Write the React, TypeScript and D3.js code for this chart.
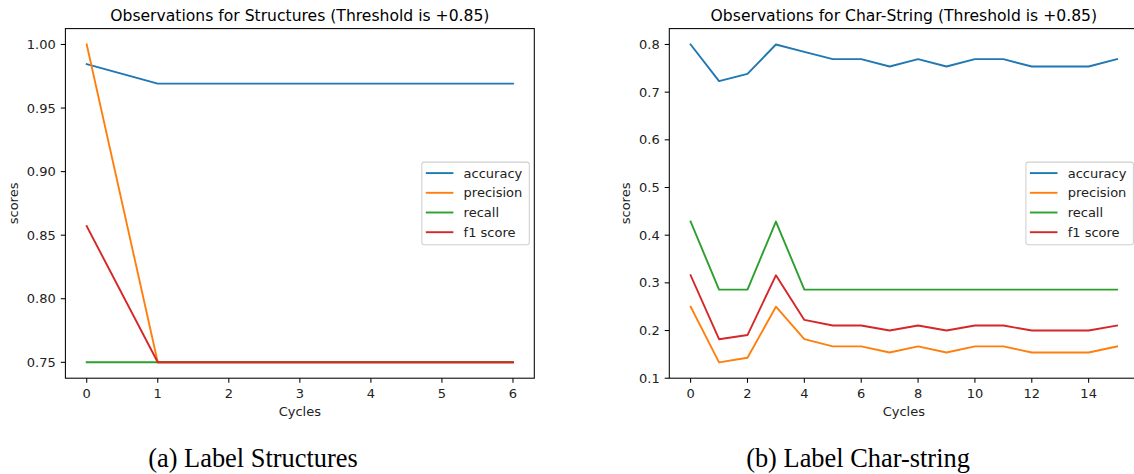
import React from 'react';
import * as d3 from 'd3';

// Label Structures (7 cycles)
const structCycles = [0, 1, 2, 3, 4, 5, 6];
const structAccuracy = [0.9846, 0.9692, 0.9692, 0.9692, 0.9692, 0.9692, 0.9692];
const structPrecision = [1.0, 0.75, 0.75, 0.75, 0.75, 0.75, 0.75];
const structRecall = [0.75, 0.75, 0.75, 0.75, 0.75, 0.75, 0.75];
const structF1 = [0.8571, 0.75, 0.75, 0.75, 0.75, 0.75, 0.75];
const structYTicks = [0.75, 0.8, 0.85, 0.9, 0.95, 1.0];
const structXTicks = [0, 1, 2, 3, 4, 5, 6];

// Label Char-string (16 cycles)
const charCycles = [0, 1, 2, 3, 4, 5, 6, 7, 8, 9, 10, 11, 12, 13, 14, 15];
const charAccuracy = [0.8, 0.7231, 0.7385, 0.8, 0.7846, 0.7692, 0.7692, 0.7538, 0.7692, 0.7538, 0.7692, 0.7692, 0.7538, 0.7538, 0.7538, 0.7692];
const charPrecision = [0.25, 0.1333, 0.1429, 0.25, 0.1818, 0.1667, 0.1667, 0.1538, 0.1667, 0.1538, 0.1667, 0.1667, 0.1538, 0.1538, 0.1538, 0.1667];
const charRecall = [0.4286, 0.2857, 0.2857, 0.4286, 0.2857, 0.2857, 0.2857, 0.2857, 0.2857, 0.2857, 0.2857, 0.2857, 0.2857, 0.2857, 0.2857, 0.2857];
const charF1 = [0.3158, 0.1818, 0.1905, 0.3158, 0.2222, 0.2105, 0.2105, 0.2, 0.2105, 0.2, 0.2105, 0.2105, 0.2, 0.2, 0.2, 0.2105];
const charYTicks = [0.1, 0.2, 0.3, 0.4, 0.5, 0.6, 0.7, 0.8];
const charXTicks = [0, 2, 4, 6, 8, 10, 12, 14];

const seriesNames = ['accuracy', 'precision', 'recall', 'f1 score'];
const colors = ['#1f77b4', '#ff7f0e', '#2ca02c', '#d62728'];

const FONT = 'DejaVu Sans, sans-serif';

type PanelProps = {
  title: string;
  caption: string;
  captionX: number;
  cycles: number[];
  series: number[][];
  xDomain: [number, number];
  xRange: [number, number];
  yDomain: [number, number];
  xTicks: number[];
  yTicks: number[];
  yFormat: string;
  yLabelX: number;
};

const Panel = (p: PanelProps) => {
  const top = 28.6;
  const bottom = 378.2;
  const x = d3.scaleLinear().domain(p.xDomain).range(p.xRange);
  const y = d3.scaleLinear().domain(p.yDomain).range([bottom, top]);
  const fmt = d3.format(p.yFormat);
  const [left, right] = p.xRange;
  const cx = (left + right) / 2;

  const line = d3.line<number>()
    .x((_, i) => x(p.cycles[i]))
    .y(d => y(d));

  // legend, "center right"
  const legW = 107.5;
  const legH = 82.6;
  const legRight = right - 5;
  const legLeft = legRight - legW;
  const legTop = (top + bottom) / 2 - legH / 2;

  return (
    <g>
      <text x={cx} y={21} textAnchor="middle" fontSize={15.6} fontFamily={FONT} fill="#000">
        {p.title}
      </text>

      {p.series.map((s, i) => (
        <path key={i} d={line(s) || ''} fill="none" stroke={colors[i]} strokeWidth={1.9}
          strokeLinejoin="round" strokeLinecap="square" />
      ))}

      {/* spines */}
      <rect x={left} y={top} width={right - left} height={bottom - top}
        fill="none" stroke="#000" strokeWidth={1.05} />

      {p.yTicks.map(t => (
        <g key={t}>
          <line x1={left - 4.6} x2={left} y1={y(t)} y2={y(t)} stroke="#000" strokeWidth={1.05} />
          <text x={left - 9.6} y={y(t) + 4.6} textAnchor="end" fontSize={13} fontFamily={FONT} fill="#222">
            {fmt(t)}
          </text>
        </g>
      ))}
      {p.xTicks.map(t => (
        <g key={t}>
          <line x1={x(t)} x2={x(t)} y1={bottom} y2={bottom + 4.6} stroke="#000" strokeWidth={1.05} />
          <text x={x(t)} y={397.8} textAnchor="middle" fontSize={13} fontFamily={FONT} fill="#222">
            {t}
          </text>
        </g>
      ))}

      <text x={cx} y={415.8} textAnchor="middle" fontSize={13} fontFamily={FONT} fill="#222">Cycles</text>
      <text transform={`translate(${p.yLabelX},${(top + bottom) / 2}) rotate(-90)`} textAnchor="middle"
        fontSize={13} fontFamily={FONT} fill="#222">scores</text>

      <rect x={legLeft} y={legTop} width={legW} height={legH} rx={2.5}
        fill="#fff" fillOpacity={0.8} stroke="#d0d0d0" strokeWidth={1.05} />
      {seriesNames.map((name, i) => {
        const ry = legTop + 11 + i * 19.7;
        return (
          <g key={name}>
            <line x1={legLeft + 4} x2={legLeft + 31.6} y1={ry} y2={ry} stroke={colors[i]} strokeWidth={1.9} />
            <text x={legLeft + 41.8} y={ry + 4.6} fontSize={13} fontFamily={FONT} fill="#222">{name}</text>
          </g>
        );
      })}

      <text x={p.captionX} y={467} textAnchor="middle" fontSize={26.4}
        fontFamily="Liberation Serif, Times New Roman, serif" fill="#000">
        {p.caption}
      </text>
    </g>
  );
};

export default function App() {
  return (
    <svg width={1134} height={474} style={{ position: 'absolute', left: 0, top: 0, background: '#fff' }}>
      <rect width={1134} height={474} fill="#fff" />
      <Panel
        title="Observations for Structures (Threshold is +0.85)"
        caption="(a) Label Structures"
        captionX={253}
        cycles={structCycles}
        series={[structAccuracy, structPrecision, structRecall, structF1]}
        xDomain={[-0.3, 6.3]}
        xRange={[65.4, 534.3]}
        yDomain={[0.7375, 1.0125]}
        xTicks={structXTicks}
        yTicks={structYTicks}
        yFormat=".2f"
        yLabelX={18}
      />
      <Panel
        title="Observations for Char-String (Threshold is +0.85)"
        caption="(b) Label Char-string"
        captionX={858}
        cycles={charCycles}
        series={[charAccuracy, charPrecision, charRecall, charF1]}
        xDomain={[-0.75, 15.75]}
        xRange={[669.3, 1138.4]}
        yDomain={[0.1, 0.8333]}
        xTicks={charXTicks}
        yTicks={charYTicks}
        yFormat=".1f"
        yLabelX={629.5}
      />
    </svg>
  );
}
